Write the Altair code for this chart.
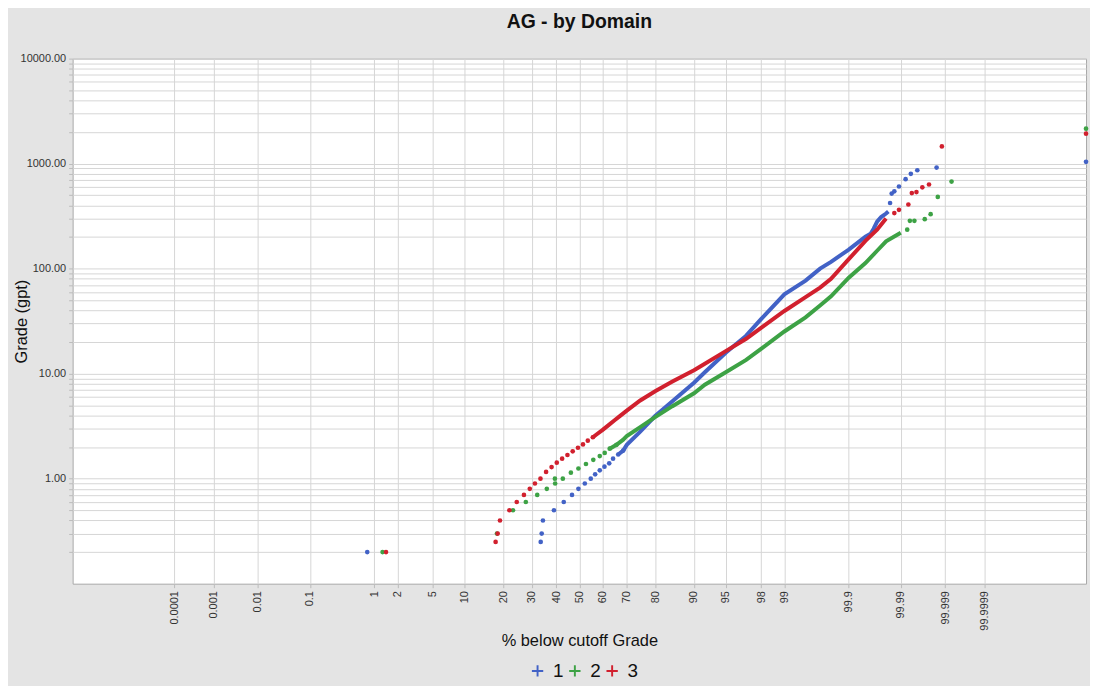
import altair as alt
import pandas as pd
from statistics import NormalDist

# ---------------- data: % below cutoff vs grade (gpt) ----------------
# Domain 1 (blue)
s1_dot_pct = [0.80, 33.5, 33.9, 34.4, 39.0, 43.2, 46.8, 49.6, 52.4, 55.0, 56.9, 58.9, 60.9,
              62.9, 64.5, 66.6, 68.6, 99.9834, 99.9846, 99.9864, 99.9891, 99.9921, 99.9939,
              99.9956, 99.9984, 100]
s1_dot_grade = [0.2, 0.25, 0.3, 0.4, 0.5, 0.6, 0.7, 0.8, 0.9, 1.0, 1.1, 1.2, 1.3,
                1.4, 1.55, 1.7, 1.85, 422, 518, 545, 606, 711, 800,
                865, 916, 1040]
s1_line_pct = [66.6, 68.6, 70, 75, 80, 85, 90, 92, 95, 97, 98, 99, 99.5, 99.7, 99.8, 99.9,
               99.95, 99.96, 99.965, 99.97, 99.975, 99.98, 99.982]
s1_line_grade = [1.7, 1.85, 2.1, 2.8, 3.95, 5.45, 8.2, 10.3, 15.8, 23, 33, 57, 77, 100, 116,
                 152, 202, 215, 240, 280, 310, 335, 350]

# Domain 2 (green)
s2_dot_pct = [1.29, 18.0, 23.1, 27.7, 32.1, 36.0, 39.5, 39.4, 42.8, 46.3, 49.6, 52.9, 56.1,
              58.9, 61.0, 63.1, 65.9, 99.9927, 99.9936, 99.9949, 99.9970, 99.9978, 99.9985,
              99.9993, 100]
s2_dot_grade = [0.2, 0.3, 0.5, 0.6, 0.7, 0.8, 0.9, 1.0, 1.0, 1.14, 1.25, 1.38, 1.51,
                1.64, 1.76, 1.93, 2.1, 235, 285, 285, 296, 330, 482,
                674, 2150]
s2_line_pct = [63.1, 65.9, 68.6, 70, 75, 80, 85, 90, 92, 95, 97, 98, 99, 99.5, 99.7, 99.8,
               99.9, 99.95, 99.97, 99.98, 99.99]
s2_line_grade = [1.93, 2.1, 2.35, 2.55, 3.1, 3.86, 4.9, 6.5, 7.85, 10.3, 13.5, 17.2, 25.2,
                 34.4, 44.6, 54.5, 82, 113, 148, 182, 220]

# Domain 3 (red)
s3_dot_pct = [1.43, 17.6, 18.2, 18.9, 21.9, 24.4, 27.0, 29.2, 31.2, 33.4, 35.7, 38.0, 40.2,
              42.5, 44.8, 47.1, 49.4, 51.6, 53.7, 55.9, 99.9864, 99.9891, 99.9931,
              99.9942, 99.9954, 99.9966, 99.9976, 99.9988, 100]
s3_dot_grade = [0.2, 0.25, 0.3, 0.4, 0.5, 0.6, 0.7, 0.8, 0.9, 1.0, 1.16, 1.29, 1.42,
                1.55, 1.68, 1.82, 1.97, 2.12, 2.3, 2.48, 338, 363, 408,
                524, 536, 594, 633, 1457, 1930]
s3_line_pct = [55.9, 57.9, 60, 62.5, 65, 67.5, 70, 75, 80, 85, 90, 92, 95, 97, 98, 99, 99.5,
               99.7, 99.8, 99.9, 99.95, 99.97, 99.98]
s3_line_grade = [2.48, 2.68, 2.9, 3.22, 3.58, 3.98, 4.45, 5.55, 6.8, 8.4, 10.8, 12.4, 16.4,
                 21.5, 27.3, 39.5, 53.5, 66, 80, 123, 184, 235, 300]

domains = ["1", "2", "3"]
colors = ["#4262c6", "#3da245", "#d1202e"]

# axis ticks
x_tick_pct = [0.0001, 0.001, 0.01, 0.1, 1, 2, 5, 10, 20, 30, 40, 50, 60, 70, 80, 90, 95, 98,
              99, 99.9, 99.99, 99.999, 99.9999]
x_tick_lab = ["0.0001", "0.001", "0.01", "0.1", "1", "2", "5", "10", "20", "30", "40", "50",
              "60", "70", "80", "90", "95", "98", "99", "99.9", "99.99", "99.999", "99.9999"]
y_major = [1, 10, 100, 1000, 10000]
y_grid = [0.2, 0.3, 0.4, 0.5, 0.6, 0.7, 0.8, 0.9,
          1, 2, 3, 4, 5, 6, 7, 8, 9,
          10, 20, 30, 40, 50, 60, 70, 80, 90,
          100, 200, 300, 400, 500, 600, 700, 800, 900,
          1000, 2000, 3000, 4000, 5000, 6000, 7000, 8000, 9000, 10000]


def frame(parts):
    rows = []
    for name, pcts, grades in parts:
        for p, g in zip(pcts, grades):
            rows.append({"Domain": name, "pct": p, "grade": g})
    return pd.DataFrame(rows)


dots = frame([("1", s1_dot_pct, s1_dot_grade), ("2", s2_dot_pct, s2_dot_grade),
              ("3", s3_dot_pct, s3_dot_grade)])
lines = frame([("1", s1_line_pct, s1_line_grade), ("2", s2_line_pct, s2_line_grade),
               ("3", s3_line_pct, s3_line_grade)])

# probability axis: normal score of each tick
nd = NormalDist()
x_tick_z = [nd.inv_cdf(p / 100.0) for p in x_tick_pct]
label_expr = ""
for i in range(len(x_tick_z) - 1):
    mid = (x_tick_z[i] + x_tick_z[i + 1]) / 2
    label_expr += f"datum.value < {mid:.5f} ? '{x_tick_lab[i]}' : "
label_expr += f"'{x_tick_lab[-1]}'"

y_label_expr = ("indexof([" + ",".join(str(v) for v in y_major) +
                "], datum.value) >= 0 ? format(datum.value, '.2f') : ''")

FONT = "Liberation Sans"
GRID = "#d6d6d6"

x_enc = alt.X(
    "z:Q",
    scale=alt.Scale(type="symlog", constant=33, domain=[-6.05, 6.05], nice=False,
                    zero=False, clamp=True),
    axis=alt.Axis(values=x_tick_z, labelExpr=label_expr, labelAngle=270,
                  labelFontSize=11, labelColor="#333333", labelFont=FONT,
                  labelPadding=3, labelOverlap=False, labelFlush=False,
                  tickSize=4, tickColor="#bbbbbb", domain=False,
                  grid=True, gridColor=GRID, gridWidth=1,
                  title="% below cutoff Grade", titleFont=FONT, titleFontSize=16.5,
                  titleFontWeight="normal", titleColor="#111111", titleY=49),
)
y_enc = alt.Y(
    "grade:Q",
    scale=alt.Scale(type="log", domain=[0.1, 10000], nice=False),
    axis=alt.Axis(values=y_grid, labelExpr=y_label_expr, labelFontSize=11,
                  labelColor="#333333", labelFont=FONT, labelPadding=3,
                  labelOverlap=False, tickSize=4, tickColor="#bbbbbb", domain=False,
                  grid=True, gridColor=GRID, gridWidth=1,
                  title="Grade (gpt)", titleFont=FONT, titleFontSize=16.5,
                  titleFontWeight="normal", titleColor="#111111",
                  titleAngle=270, titleX=-51, titleY=264, titleAlign="center",
                  titleBaseline="middle"),
)

plus_path = "M-1,-0.17H-0.17V-1H0.17V-0.17H1V0.17H0.17V1H-0.17V0.17H-1Z"
color_scale = alt.Scale(domain=domains, range=colors)
legend = alt.Legend(title=None, orient="none", legendX=458, legendY=606,
                    direction="horizontal", symbolType=plus_path,
                    symbolSize=130, symbolStrokeWidth=0, symbolOpacity=1,
                    labelFontSize=19, labelFont=FONT, labelColor="#111111",
                    labelOffset=6, columnPadding=1.5)
color_enc = alt.Color("Domain:N", scale=color_scale, legend=legend)

calc = "quantileNormal(min(datum.pct / 100, 0.999999999999))"

line_layer = alt.Chart(lines).transform_calculate(z=calc).mark_line(
    strokeWidth=4
).encode(x=x_enc, y=y_enc, color=color_enc)

dot_layer = alt.Chart(dots).transform_calculate(z=calc).mark_circle(
    size=22, opacity=1
).encode(x=x_enc, y=y_enc, color=color_enc)

chart = alt.layer(line_layer, dot_layer).properties(
    width=1019,
    height=528,
    title=alt.TitleParams("AG - by Domain", font=FONT, fontSize=19.5, fontWeight="bold",
                          color="#111111", anchor="middle", offset=20),
    background="#e4e4e4",
    padding={"left": 65, "top": 49, "right": 4, "bottom": 101},
    autosize=alt.AutoSizeParams(type="none"),
).configure_view(fill="white", stroke="#a8a8a8", strokeWidth=1)

chart.save("out.html", embed_options={"renderer": "svg", "actions": False})
